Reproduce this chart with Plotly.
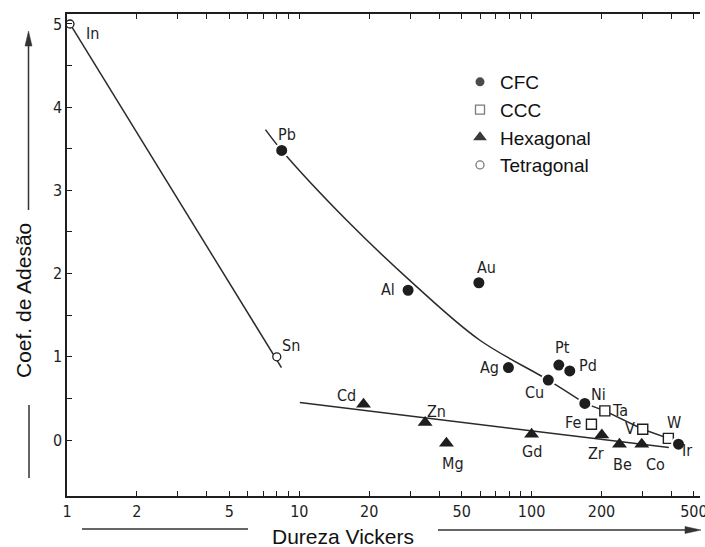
import math
import plotly.graph_objects as go

# Vickers hardness (HV) and adhesion coefficient, grouped by crystal structure
cfc_names = ["Pb", "Al", "Au", "Ag", "Cu", "Pt", "Pd", "Ni", "Ir"]
cfc_hv = [8.4, 29.4, 59.3, 79.5, 118, 131, 146, 169.5, 429]
cfc_coef = [3.48, 1.80, 1.89, 0.87, 0.72, 0.90, 0.83, 0.44, -0.05]

ccc_names = ["Fe", "Ta", "V", "W"]
ccc_hv = [181, 206.7, 301, 388]
ccc_coef = [0.19, 0.35, 0.13, 0.02]

hex_names = ["Cd", "Zn", "Mg", "Gd", "Zr", "Be", "Co"]
hex_hv = [18.9, 34.8, 43, 100, 200.6, 239, 298]
hex_coef = [0.43, 0.21, -0.04, 0.07, 0.06, -0.05, -0.05]

tet_names = ["In", "Sn"]
tet_hv = [1.03, 8.0]
tet_coef = [5.0, 1.0]

# Trend curves: smooth CFC fit down to Ni, then straight runs to Ir
cfc_fit_hv = [7.15, 8.4, 15.96, 30.87, 59.7, 118, 169.5]
cfc_fit_coef = [3.73, 3.48, 2.644, 1.883, 1.202, 0.72, 0.44]
tail_fit_hv = [169.5, 206.7, 301, 388, 429]
tail_fit_coef = [0.44, 0.35, 0.13, 0.02, -0.05]
hex_fit_hv = [10.05, 390]
hex_fit_coef = [0.45, -0.09]
tet_fit_hv = [1.03, 8.38]
tet_fit_coef = [5.0, 0.87]

# Axis ticks
x_tickvals = [1, 2, 3, 4, 5, 6, 7, 8, 9, 10, 20, 30, 40, 50, 60, 70, 80, 90,
              100, 200, 300, 400, 500]
x_labeled = {1, 2, 5, 10, 20, 50, 100, 200, 500}
y_tickvals = [0, 0.5, 1, 1.5, 2, 2.5, 3, 3.5, 4, 4.5, 5]

# Label placement around each marker (pixel offsets: right, up)
label_offsets = {
    "In": (23, -10), "Pb": (5, 16), "Al": (-20, 1), "Au": (8, 15),
    "Ag": (-19, 0), "Pt": (4, 18), "Pd": (18, 5), "Cu": (-14, -12),
    "Ni": (14, 9), "Ta": (15, 0), "Fe": (-18, 2), "V": (-13, 1),
    "W": (6, 16), "Ir": (8, -6), "Zr": (-6, -18), "Be": (3, -20),
    "Co": (14, -20), "Gd": (0, -17), "Zn": (11, 11), "Mg": (7, -20),
    "Cd": (-17, 9), "Sn": (14, 11),
}

INK = "#1e1e1e"
NARROW = "Liberation Sans Narrow, DejaVu Sans Condensed, sans-serif"
SANS = "Liberation Sans, Arial, sans-serif"

# Plot area geometry (pixels) for placing the axis titles and arrows
W, H = 705, 547
ML, MR, MT, MB = 67, 5, 14, 51
PW, PH = W - ML - MR, H - MT - MB


def px_x(p):
    return (p - ML) / PW


def px_y(p):
    return (H - MB - p) / PH


fig = go.Figure()

line_style = dict(color="#2a2a2a", width=1.5)
fig.add_trace(go.Scatter(x=tet_fit_hv, y=tet_fit_coef, mode="lines",
                         line=line_style, showlegend=False, hoverinfo="skip"))
fig.add_trace(go.Scatter(x=hex_fit_hv, y=hex_fit_coef, mode="lines",
                         line=line_style, showlegend=False, hoverinfo="skip"))
fig.add_trace(go.Scatter(x=cfc_fit_hv, y=cfc_fit_coef, mode="lines",
                         line=dict(color="#2a2a2a", width=1.5, shape="spline",
                                   smoothing=1.0),
                         showlegend=False, hoverinfo="skip"))
fig.add_trace(go.Scatter(x=tail_fit_hv, y=tail_fit_coef, mode="lines",
                         line=line_style, showlegend=False, hoverinfo="skip"))

fig.add_trace(go.Scatter(
    x=hex_hv, y=hex_coef, mode="markers", name="Hexagonal", showlegend=False,
    marker=dict(symbol="triangle-up", size=13, color=INK,
                line=dict(width=0)), cliponaxis=False))
fig.add_trace(go.Scatter(
    x=ccc_hv, y=ccc_coef, mode="markers", name="CCC", showlegend=False,
    marker=dict(symbol="square", size=10, color="white",
                line=dict(color=INK, width=1.4)), cliponaxis=False))
fig.add_trace(go.Scatter(
    x=cfc_hv, y=cfc_coef, mode="markers", name="CFC", showlegend=False,
    marker=dict(symbol="circle", size=13, color=INK,
                line=dict(color="white", width=2)), cliponaxis=False))
fig.add_trace(go.Scatter(
    x=tet_hv, y=tet_coef, mode="markers", name="Tetragonal", showlegend=False,
    marker=dict(symbol="circle", size=8, color="white",
                line=dict(color=INK, width=1.3)), cliponaxis=False))

# Legend entries
legend_items = [
    ("CFC", dict(symbol="circle", size=9, color="#4a4a4a")),
    ("CCC", dict(symbol="square", size=9, color="white",
                 line=dict(color="#7a7a7a", width=1.3))),
    ("Hexagonal", dict(symbol="triangle-up", size=12, color="#3a3a3a")),
    ("Tetragonal", dict(symbol="circle", size=8, color="white",
                        line=dict(color="#7a7a7a", width=1.3))),
]
for name, mk in legend_items:
    fig.add_trace(go.Scatter(x=[None], y=[None], mode="markers", name=name,
                             marker=mk, showlegend=True))

# Element labels (annotation x on a log axis is given in log10 units)
annotations = []
for names, xs, ys in ((cfc_names, cfc_hv, cfc_coef),
                      (ccc_names, ccc_hv, ccc_coef),
                      (hex_names, hex_hv, hex_coef),
                      (tet_names, tet_hv, tet_coef)):
    for n, xv, yv in zip(names, xs, ys):
        dx, dy = label_offsets[n]
        annotations.append(dict(
            x=math.log10(xv), y=yv, xref="x", yref="y", text=n,
            showarrow=False, xshift=dx, yshift=dy,
            xanchor="center", yanchor="middle",
            font=dict(family=NARROW, size=16, color=INK)))

# Axis titles
annotations.append(dict(
    x=px_x(343), y=px_y(536), xref="paper", yref="paper",
    text="Dureza Vickers", showarrow=False, xanchor="center", yanchor="middle",
    font=dict(family=SANS, size=21, color="#111111")))
annotations.append(dict(
    x=px_x(23), y=px_y(301), xref="paper", yref="paper",
    text="Coef. de Adesão", showarrow=False, textangle=-90,
    xanchor="center", yanchor="middle",
    font=dict(family=SANS, size=21, color="#111111")))

# Arrow lines accompanying the axis titles
arrow_col = "#333333"
shapes = [
    dict(type="line", xref="paper", yref="paper",
         x0=px_x(28.5), x1=px_x(28.5), y0=px_y(210), y1=px_y(44),
         line=dict(color=arrow_col, width=1.5)),
    dict(type="path", xref="paper", yref="paper",
         path=f"M {px_x(28.5)},{px_y(31)} L {px_x(25)},{px_y(46)} "
              f"L {px_x(32)},{px_y(46)} Z",
         fillcolor=arrow_col, line=dict(color=arrow_col, width=0.5)),
    dict(type="line", xref="paper", yref="paper",
         x0=px_x(29), x1=px_x(29), y0=px_y(405), y1=px_y(478),
         line=dict(color=arrow_col, width=1.5)),
    dict(type="line", xref="paper", yref="paper",
         x0=px_x(82), x1=px_x(248), y0=px_y(529), y1=px_y(529),
         line=dict(color=arrow_col, width=1.5)),
    dict(type="line", xref="paper", yref="paper",
         x0=px_x(438), x1=px_x(688), y0=px_y(530), y1=px_y(530),
         line=dict(color=arrow_col, width=1.5)),
    dict(type="path", xref="paper", yref="paper",
         path=f"M {px_x(701)},{px_y(530)} L {px_x(685)},{px_y(526.5)} "
              f"L {px_x(685)},{px_y(533.5)} Z",
         fillcolor=arrow_col, line=dict(color=arrow_col, width=0.5)),
]

fig.update_layout(
    width=W, height=H,
    margin=dict(l=ML, r=MR, t=MT, b=MB, pad=0, autoexpand=False),
    paper_bgcolor="white", plot_bgcolor="white",
    annotations=annotations, shapes=shapes,
    legend=dict(x=px_x(460), y=px_y(63), xanchor="left", yanchor="top",
                font=dict(family=SANS, size=19, color="#111111"),
                bgcolor="rgba(0,0,0,0)", tracegroupgap=0, itemsizing="trace"),
    xaxis=dict(
        type="log", range=[0, 2.725], showgrid=False, zeroline=False,
        showline=True, linecolor=INK, linewidth=1.5, mirror="ticks",
        ticks="inside", ticklen=5, tickwidth=1.2, tickcolor=INK,
        tickvals=x_tickvals,
        ticktext=[str(v) if v in x_labeled else "" for v in x_tickvals],
        tickfont=dict(family=NARROW, size=16, color=INK),
        ticklabeloverflow="allow", automargin=False,
    ),
    yaxis=dict(
        range=[-0.673, 5.12], showgrid=False, zeroline=False,
        showline=True, linecolor=INK, linewidth=1.5,
        ticks="inside", ticklen=5, tickwidth=1.2, tickcolor=INK,
        tickvals=y_tickvals,
        ticktext=[str(int(v)) if float(v).is_integer() else "" for v in y_tickvals],
        tickfont=dict(family=NARROW, size=16, color=INK),
        automargin=False,
    ),
)

fig.write_html("out.html")
